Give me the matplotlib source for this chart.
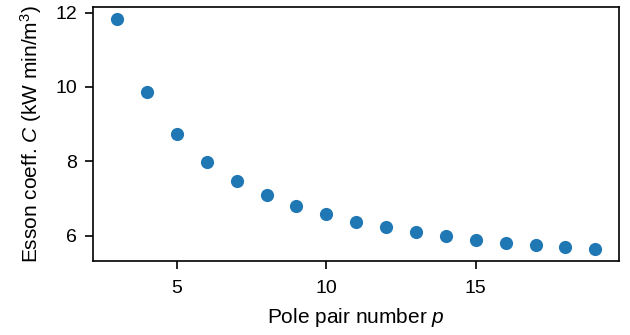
import matplotlib
matplotlib.use("Agg")
import matplotlib.pyplot as plt

# datos
pares_polos = [3, 4, 5, 6, 7, 8, 9, 10, 11, 12, 13, 14, 15, 16, 17, 18, 19]
coef_esson = [11.84, 9.87, 8.73, 7.99, 7.47, 7.09, 6.80, 6.58, 6.38, 6.23,
              6.10, 5.99, 5.89, 5.81, 5.74, 5.69, 5.63]

plt.rcParams['font.family'] = ['Liberation Sans', 'DejaVu Sans']
plt.rcParams['font.size'] = 14
plt.rcParams['mathtext.fontset'] = 'custom'
plt.rcParams['mathtext.rm'] = 'Liberation Sans'
plt.rcParams['mathtext.it'] = 'Liberation Sans:italic'

fig, ax = plt.subplots(figsize=(6.3, 3.35), dpi=100)
fig.subplots_adjust(left=0.148, right=0.983, top=0.979, bottom=0.221)

ax.scatter(pares_polos, coef_esson, s=90, color='#1f77b4', linewidths=0)

ax.set_xlabel("Pole pair number $p$", fontsize=15, labelpad=7)
ax.set_ylabel("Esson coeff. $C$ (kW min/m$^3$)", fontsize=15, labelpad=8)
ax.set_xticks([5, 10, 15])
ax.set_yticks([6, 8, 10, 12])

for lado in ax.spines.values():
    lado.set_linewidth(1.2)
ax.tick_params(length=5.5, width=1.2)
ax.tick_params(axis='x', pad=8)
ax.tick_params(axis='y', pad=6)

fig.savefig("out.png", dpi=100)
plt.close(fig)
